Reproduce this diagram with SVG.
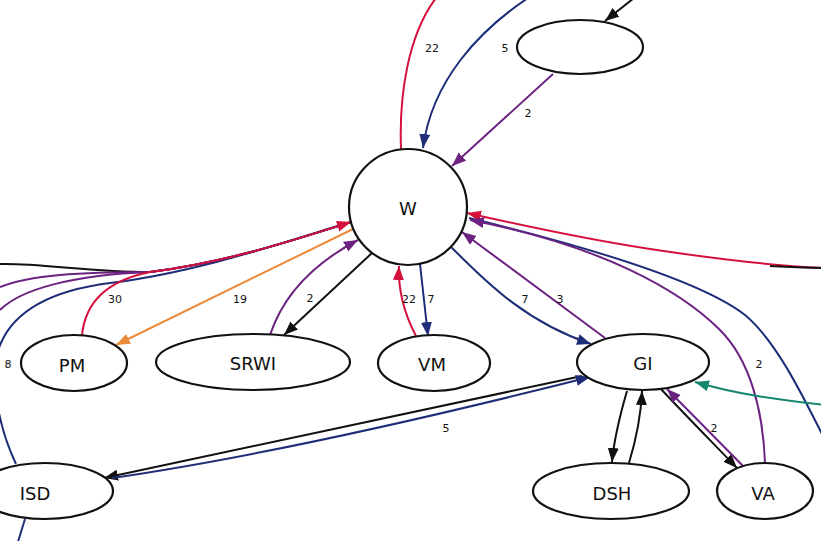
<svg xmlns="http://www.w3.org/2000/svg" width="821" height="541" viewBox="0 0 821 541">
<style>
.node{fill:#fff;stroke:#111;stroke-width:2.2}
.nl{font-family:"DejaVu Sans",sans-serif;font-size:18px;fill:#111;text-anchor:middle;dominant-baseline:central}
.el{font-family:"DejaVu Sans",sans-serif;font-size:11px;fill:#111;text-anchor:middle;dominant-baseline:central}
.e{fill:none;stroke-width:2}
.k{stroke:#111}.r{stroke:#d4113d}.b{stroke:#1e2d78}.p{stroke:#6c2280}.o{stroke:#ec8a3a}.t{stroke:#15876c}
</style>
<defs>
<marker id="ak" markerUnits="userSpaceOnUse" markerWidth="15" markerHeight="13" refX="14" refY="5.5" orient="auto"><path d="M0,0 L14,5.5 L0,11 z" fill="#111"/></marker>
<marker id="ar" markerUnits="userSpaceOnUse" markerWidth="15" markerHeight="13" refX="14" refY="5.5" orient="auto"><path d="M0,0 L14,5.5 L0,11 z" fill="#d4113d"/></marker>
<marker id="ab" markerUnits="userSpaceOnUse" markerWidth="15" markerHeight="13" refX="14" refY="5.5" orient="auto"><path d="M0,0 L14,5.5 L0,11 z" fill="#1e2d78"/></marker>
<marker id="ap" markerUnits="userSpaceOnUse" markerWidth="15" markerHeight="13" refX="14" refY="5.5" orient="auto"><path d="M0,0 L14,5.5 L0,11 z" fill="#6c2280"/></marker>
<marker id="ao" markerUnits="userSpaceOnUse" markerWidth="15" markerHeight="13" refX="14" refY="5.5" orient="auto"><path d="M0,0 L14,5.5 L0,11 z" fill="#ec8a3a"/></marker>
<marker id="at" markerUnits="userSpaceOnUse" markerWidth="15" markerHeight="13" refX="14" refY="5.5" orient="auto"><path d="M0,0 L14,5.5 L0,11 z" fill="#15876c"/></marker>
</defs>
<rect width="821" height="541" fill="#fff"/>
<g id="edges">
<path class="e r" d="M401,149 C399,95 408,35 436,-2"/>
<path class="e b" d="M528,-2 C480,30 432,80 423,148" marker-end="url(#ab)"/>
<path class="e k" d="M634,-2 L605,21" marker-end="url(#ak)"/>
<path class="e p" d="M553,74 L452,166" marker-end="url(#ap)"/>
<path class="e k" d="M0,264 C40,263 90,272 150,272 C230,262 300,238 351,222"/>
<path class="e p" d="M0,287 C30,275 80,272 150,272 C230,262 300,238 351,222"/>
<path class="e p" d="M0,310 C20,290 70,275 150,272 C230,262 300,238 351,222"/>
<path class="e b" d="M16,464 C0,430 -12,380 0,345 C15,308 55,290 110,283 C200,272 290,240 351,222"/>
<path class="e r" d="M82,336 C85,300 110,280 150,272 C230,262 300,238 351,222" marker-end="url(#ar)"/>
<path class="e b" d="M25,519 L17,545"/>
<path class="e o" d="M353,229 L116,345" marker-end="url(#ao)"/>
<path class="e p" d="M270,335 C285,290 320,260 358,240" marker-end="url(#ap)"/>
<path class="e k" d="M372,253 L284,335" marker-end="url(#ak)"/>
<path class="e r" d="M416,336 C405,315 398,290 399,266" marker-end="url(#ar)"/>
<path class="e b" d="M420,264 L428,336" marker-end="url(#ab)"/>
<path class="e b" d="M451,247 C480,275 520,320 591,344" marker-end="url(#ab)"/>
<path class="e p" d="M605,338 L462,232" marker-end="url(#ap)"/>
<path class="e r" d="M825,268 C770,266 710,258 650,249 C590,240 520,225 467,213" marker-end="url(#ar)"/>
<path class="e k" d="M770,266 C790,267 805,268 825,268" stroke-width="1.6"/>
<path class="e b" d="M469,218 C580,245 700,280 745,315 C775,340 800,390 825,440"/>
<path class="e p" d="M765,463 C763,410 750,360 720,330 C680,290 600,245 470,220" marker-end="url(#ap)"/>
<path class="e t" d="M825,405 C780,400 740,395 695,382" marker-end="url(#at)"/>
<path class="e k" d="M582,376 L104,478" marker-end="url(#ak)"/>
<path class="e b" d="M112,478 C250,458 420,420 590,377" marker-end="url(#ab)"/>
<path class="e k" d="M627,391 C620,415 614,440 612,462" marker-end="url(#ak)"/>
<path class="e k" d="M629,463 C636,440 641,415 642,391" marker-end="url(#ak)"/>
<path class="e k" d="M660,388 C690,420 715,445 737,468" marker-end="url(#ak)"/>
<path class="e p" d="M743,466 L667,389" marker-end="url(#ap)"/>
<text class="el" x="432" y="48">22</text>
<text class="el" x="505" y="48">5</text>
<text class="el" x="528" y="113">2</text>
<text class="el" x="115" y="299">30</text>
<text class="el" x="240" y="299">19</text>
<text class="el" x="310" y="298">2</text>
<text class="el" x="409" y="299">22</text>
<text class="el" x="431" y="299">7</text>
<text class="el" x="525" y="299">7</text>
<text class="el" x="560" y="299">3</text>
<text class="el" x="759" y="364">2</text>
<text class="el" x="8" y="364">8</text>
<text class="el" x="446" y="428">5</text>
<text class="el" x="714" y="428">2</text>
</g>
<g id="node-W"><ellipse class="node" cx="408" cy="207" rx="59" ry="58"/><text class="nl" x="408" y="208">W</text></g>
<g id="node-top"><ellipse class="node" cx="580" cy="47" rx="63" ry="27"/></g>
<g id="node-PM"><ellipse class="node" cx="74" cy="363" rx="53" ry="28"/><text class="nl" x="72" y="365">PM</text></g>
<g id="node-SRWI"><ellipse class="node" cx="253" cy="362" rx="97" ry="28"/><text class="nl" x="253" y="363">SRWI</text></g>
<g id="node-VM"><ellipse class="node" cx="434" cy="363" rx="56" ry="28"/><text class="nl" x="432" y="364">VM</text></g>
<g id="node-GI"><ellipse class="node" cx="643" cy="362" rx="66" ry="28"/><text class="nl" x="643" y="363">GI</text></g>
<g id="node-ISD"><ellipse class="node" cx="45" cy="491" rx="68" ry="28"/><text class="nl" x="35" y="493">ISD</text></g>
<g id="node-DSH"><ellipse class="node" cx="611" cy="491" rx="78" ry="28"/><text class="nl" x="612" y="493">DSH</text></g>
<g id="node-VA"><ellipse class="node" cx="765" cy="491" rx="48" ry="28"/><text class="nl" x="763" y="493">VA</text></g>
</svg>
